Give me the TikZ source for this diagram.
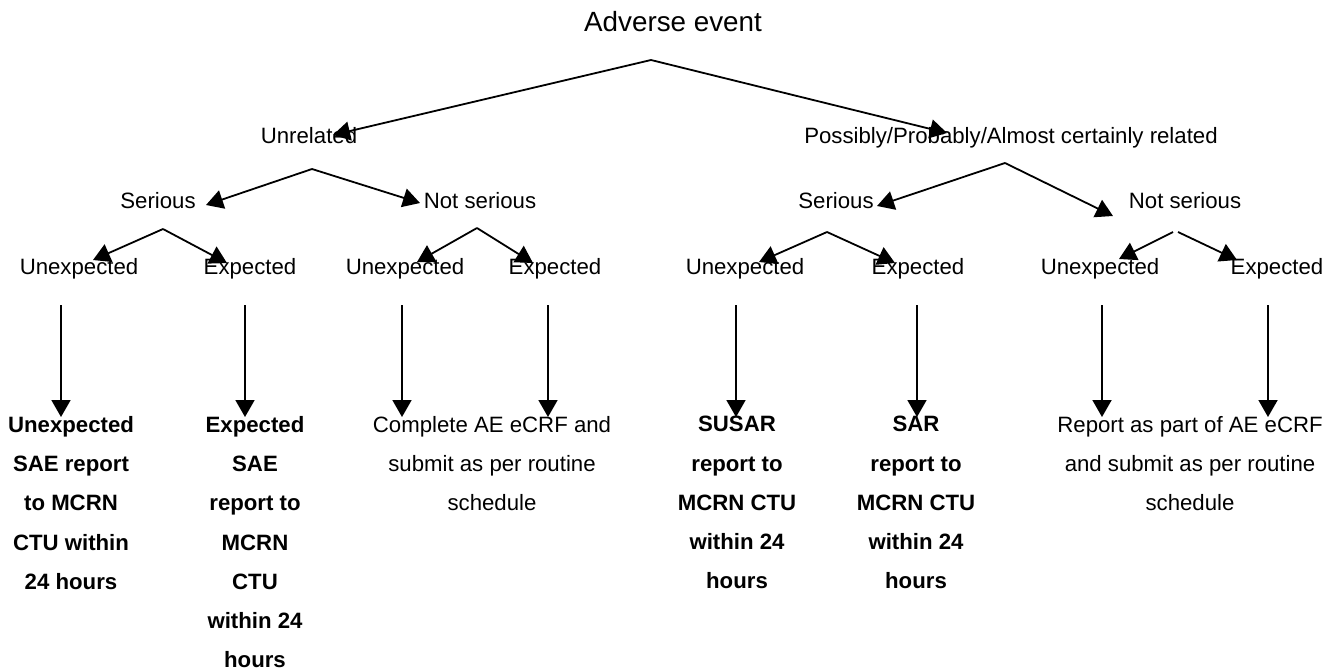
\documentclass[tikz,border=0pt]{standalone}
\usepackage{fontspec}
\setmainfont{Liberation Sans}
\usetikzlibrary{arrows.meta}

\begin{document}
\begin{tikzpicture}[x=0.5pt,y=-0.5pt,
  lbl/.style={anchor=base,inner sep=0pt,font=\fontsize{11.1}{19.6}\selectfont},
  res/.style={anchor=north,inner sep=0pt,align=center,font=\fontsize{11.1}{19.6}\selectfont},
  bres/.style={res,font=\fontsize{11.1}{19.6}\selectfont\bfseries},
  arr/.style={-{Triangle[length=8.5pt,width=9.5pt]},line width=0.9pt}]
\useasboundingbox (0,0) rectangle (1342,670);
\node[lbl,font=\fontsize{13.9}{16}\selectfont] (ae) at (673,31) {Adverse event};
\node[lbl] (unrel) at (309,143) {Unrelated};
\node[lbl] (rel) at (1011,143) {Possibly/Probably/Almost certainly related};
\node[lbl] (ser1) at (158,208) {Serious};
\node[lbl] (nser1) at (480,208) {Not serious};
\node[lbl] (ser2) at (836,208) {Serious};
\node[lbl] (nser2) at (1185,208) {Not serious};
\node[lbl] (unx1) at (79,274) {Unexpected};
\node[lbl] (exp1) at (250,274) {Expected};
\node[lbl] (unx2) at (405,274) {Unexpected};
\node[lbl] (exp2) at (555,274) {Expected};
\node[lbl] (unx3) at (745,274) {Unexpected};
\node[lbl] (exp3) at (918,274) {Expected};
\node[lbl] (unx4) at (1100,274) {Unexpected};
\node[lbl] (exp4) at (1277,274) {Expected};
\node[bres] (sae1) at (71,416) {Unexpected\\SAE report\\to MCRN\\CTU within\\24 hours};
\node[bres] (sae2) at (255,416) {Expected\\SAE\\report to\\MCRN\\CTU\\within 24\\hours};
\node[res] (crf1) at (492,416) {Complete AE eCRF and\\submit as per routine\\schedule};
\node[bres] (susar) at (737,416) {SUSAR\\report to\\MCRN CTU\\within 24\\hours};
\node[bres] (sar) at (916,416) {SAR\\report to\\MCRN CTU\\within 24\\hours};
\node[res] (crf2) at (1190,416) {Report as part of AE eCRF\\and submit as per routine\\schedule};
\coordinate (c0) at (651,60);
\coordinate (c0l) at (333,135);
\coordinate (c0r) at (947,133);
\coordinate (c1) at (312,169);
\coordinate (c1l) at (206,205);
\coordinate (c1r) at (420,203);
\coordinate (c2) at (1005,163);
\coordinate (c2l) at (877,206);
\coordinate (c2r) at (1113,216);
\coordinate (c3) at (163,229);
\coordinate (c3l) at (93,260);
\coordinate (c3r) at (227,263);
\coordinate (c4) at (477,228);
\coordinate (c4l) at (417,262);
\coordinate (c4r) at (533,263);
\coordinate (c5) at (827,232);
\coordinate (c5l) at (759,262);
\coordinate (c5r) at (895,263);
\coordinate (c6) at (1173,232);
\coordinate (c6b) at (1178,232);
\coordinate (c6l) at (1119,259);
\coordinate (c6r) at (1237,260);
\foreach \n in {0,...,5} {
  \draw[arr] (c\n) -- (c\n l);
  \draw[arr] (c\n) -- (c\n r);
}
\draw[arr] (c6) -- (c6l);
\draw[arr] (c6b) -- (c6r);
\foreach \x [count=\i] in {61,245,402,548,736,917,1102,1268} {
  \coordinate (d\i) at (\x,305);
  \coordinate (o\i) at (\x,417);
  \draw[arr] (d\i) -- (o\i);
}
\end{tikzpicture}
\end{document}
